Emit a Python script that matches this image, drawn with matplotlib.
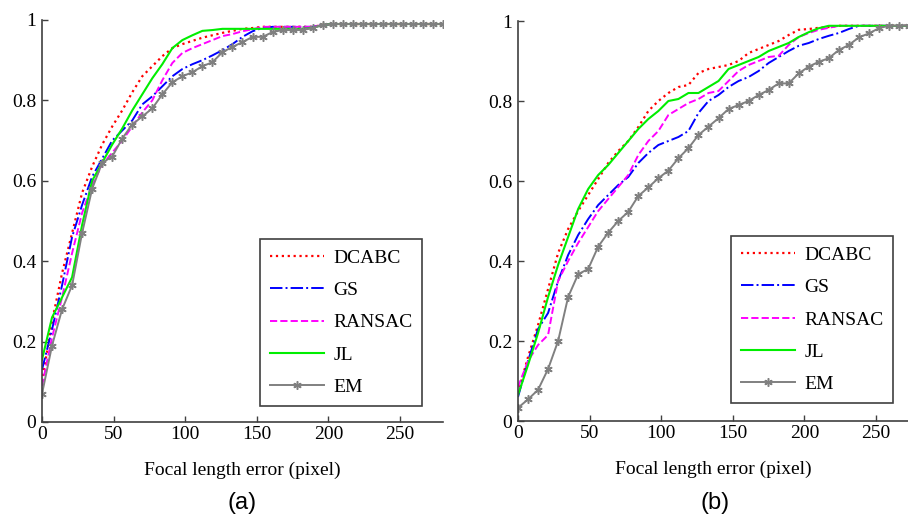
import matplotlib
matplotlib.use("Agg")
import matplotlib.pyplot as plt
from matplotlib.ticker import FixedLocator

# ---------------- data ----------------
x_err = list(range(0, 281, 7))  # 0, 7, ..., 280

# panel (a)
a_dcabc = [0.10, 0.25, 0.37, 0.47, 0.57, 0.635, 0.69, 0.735, 0.775, 0.82, 0.86, 0.885, 0.91, 0.93,
           0.94, 0.948, 0.956, 0.962, 0.968, 0.973, 0.978, 0.98, 0.983, 0.983, 0.983, 0.983, 0.983,
           0.983, 0.988, 0.99, 0.99, 0.99, 0.99, 0.99, 0.99, 0.99, 0.99, 0.99, 0.99, 0.99, 0.99]
a_gs = [0.13, 0.23, 0.34, 0.46, 0.54, 0.61, 0.655, 0.70, 0.725, 0.75, 0.79, 0.81, 0.835, 0.86,
        0.878, 0.89, 0.90, 0.912, 0.925, 0.94, 0.958, 0.972, 0.98, 0.983, 0.983, 0.983, 0.983,
        0.983, 0.988, 0.99, 0.99, 0.99, 0.99, 0.99, 0.99, 0.99, 0.99, 0.99, 0.99, 0.99, 0.99]
a_ransac = [0.09, 0.21, 0.31, 0.42, 0.52, 0.59, 0.64, 0.67, 0.70, 0.735, 0.77, 0.80, 0.85, 0.893,
            0.918, 0.93, 0.94, 0.95, 0.96, 0.965, 0.972, 0.977, 0.983, 0.983, 0.983, 0.983, 0.983,
            0.983, 0.988, 0.99, 0.99, 0.99, 0.99, 0.99, 0.99, 0.99, 0.99, 0.99, 0.99, 0.99, 0.99]
a_jl = [0.155, 0.26, 0.31, 0.36, 0.49, 0.60, 0.645, 0.69, 0.73, 0.775, 0.815, 0.855, 0.89, 0.93,
        0.95, 0.962, 0.973, 0.975, 0.978, 0.978, 0.978, 0.978, 0.978, 0.978, 0.978, 0.978, 0.978,
        0.98, 0.988, 0.99, 0.99, 0.99, 0.99, 0.99, 0.99, 0.99, 0.99, 0.99, 0.99, 0.99, 0.99]
a_em = [0.07, 0.19, 0.28, 0.34, 0.47, 0.58, 0.645, 0.66, 0.705, 0.74, 0.76, 0.78, 0.815, 0.845,
        0.86, 0.87, 0.885, 0.895, 0.92, 0.933, 0.945, 0.958, 0.958, 0.97, 0.975, 0.975, 0.975,
        0.98, 0.988, 0.99, 0.99, 0.99, 0.99, 0.99, 0.99, 0.99, 0.99, 0.99, 0.99, 0.99, 0.99]

# panel (b)
b_dcabc = [0.07, 0.16, 0.24, 0.33, 0.42, 0.48, 0.525, 0.565, 0.605, 0.645, 0.675, 0.70, 0.735, 0.775,
           0.80, 0.82, 0.835, 0.84, 0.87, 0.88, 0.885, 0.89, 0.90, 0.92, 0.93, 0.94, 0.95, 0.965,
           0.978, 0.98, 0.983, 0.985, 0.988, 0.988, 0.988, 0.988, 0.988, 0.988, 0.988, 0.988, 0.988]
b_gs = [0.06, 0.15, 0.23, 0.27, 0.35, 0.415, 0.465, 0.505, 0.54, 0.565, 0.59, 0.61, 0.645, 0.67,
        0.69, 0.70, 0.71, 0.725, 0.77, 0.80, 0.815, 0.835, 0.85, 0.86, 0.875, 0.895, 0.91, 0.925,
        0.938, 0.945, 0.955, 0.963, 0.97, 0.98, 0.988, 0.988, 0.988, 0.988, 0.988, 0.988, 0.988]
b_ransac = [0.085, 0.15, 0.19, 0.215, 0.35, 0.40, 0.445, 0.485, 0.525, 0.555, 0.585, 0.615, 0.665, 0.70,
            0.725, 0.765, 0.78, 0.795, 0.805, 0.82, 0.825, 0.85, 0.875, 0.89, 0.90, 0.91, 0.913, 0.94,
            0.96, 0.97, 0.978, 0.983, 0.988, 0.988, 0.988, 0.988, 0.988, 0.988, 0.988, 0.988, 0.988]
b_jl = [0.065, 0.14, 0.22, 0.31, 0.39, 0.46, 0.53, 0.58, 0.615, 0.64, 0.67, 0.70, 0.73, 0.755,
        0.775, 0.80, 0.805, 0.82, 0.82, 0.835, 0.85, 0.88, 0.89, 0.90, 0.91, 0.925, 0.935, 0.945,
        0.96, 0.972, 0.982, 0.988, 0.988, 0.988, 0.988, 0.988, 0.988, 0.988, 0.988, 0.988, 0.988]
b_em = [0.033, 0.054, 0.078, 0.13, 0.20, 0.31, 0.367, 0.38, 0.436, 0.471, 0.50, 0.523, 0.5625, 0.584,
        0.607, 0.626, 0.657, 0.682, 0.715, 0.736, 0.757, 0.78, 0.79, 0.80, 0.815, 0.8275, 0.844, 0.844,
        0.869, 0.886, 0.898, 0.907, 0.9275, 0.94, 0.959, 0.969, 0.982, 0.988, 0.988, 0.988, 0.988]

methods = ["DCABC", "GS", "RANSAC", "JL", "EM"]
y_ticks = [0, 0.2, 0.4, 0.6, 0.8, 1]
y_tick_labels = ["0", "0.2", "0.4", "0.6", "0.8", "1"]
x_ticks = [0, 50, 100, 150, 200, 250]
x_tick_labels = ["0", "50", "100", "150", "200", "250"]
xlabel_text = "Focal length error (pixel)"
panel_labels = ["(a)", "(b)"]

# ---------------- style ----------------
styles = {
    "DCABC": dict(color="#ff0000", linestyle=":", linewidth=1.6),
    "GS": dict(color="#0000ff", linestyle="-.", linewidth=1.4),
    "RANSAC": dict(color="#ff00ff", linestyle="--", linewidth=1.4),
    "JL": dict(color="#00ee00", linestyle="-", linewidth=1.5),
    "EM": dict(color="#808080", linestyle="-", linewidth=1.4,
               marker=(6, 2, 0), markersize=6, markeredgewidth=1.1),
}

serif = "Liberation Serif"
spine_col = "#404040"

W, H = 908, 518
fig = plt.figure(figsize=(W / 100, H / 100), dpi=100)


def px_axes(l, t, r, b):
    return [l / W, 1 - b / H, (r - l) / W, (b - t) / H]


panels = [
    dict(rect=px_axes(42, 20, 443, 422), xlim=(0, 280),
         data=[a_dcabc, a_gs, a_ransac, a_jl, a_em],
         leg_anchor=(0.948, 0.04), label_x=242),
    dict(rect=px_axes(518, 21, 908, 421), xlim=(0, 272.3),
         data=[b_dcabc, b_gs, b_ransac, b_jl, b_em],
         leg_anchor=(0.962, 0.045), label_x=715),
]

for i, p in enumerate(panels):
    ax = fig.add_axes(p["rect"])
    for name, ys in zip(methods, p["data"]):
        ax.plot(x_err, ys, label=name, **styles[name])
    ax.set_xlim(*p["xlim"])
    ax.set_ylim(0, 1)
    ax.xaxis.set_major_locator(FixedLocator(x_ticks))
    ax.yaxis.set_major_locator(FixedLocator(y_ticks))
    ax.set_xticklabels(x_tick_labels, fontfamily=serif, fontsize=14)
    ax.set_yticklabels(y_tick_labels, fontfamily=serif, fontsize=14)
    ax.tick_params(direction="in", length=4, width=1.0, color=spine_col, pad=4)
    ax.tick_params(axis="x", pad=3)
    for s in ["top", "right"]:
        ax.spines[s].set_visible(False)
    for s in ["left", "bottom"]:
        ax.spines[s].set_color(spine_col)
        ax.spines[s].set_linewidth(1.2)
    ax.set_xlabel(xlabel_text, fontfamily=serif, fontsize=14, labelpad=13)
    leg = ax.legend(loc="lower right", bbox_to_anchor=p["leg_anchor"],
                    prop={"family": serif, "size": 14}, frameon=True, fancybox=False,
                    handlelength=2.8, labelspacing=0.76, borderpad=0.5,
                    handletextpad=0.45, borderaxespad=0.0)
    fr = leg.get_frame()
    fr.set_edgecolor(spine_col)
    fr.set_linewidth(1.2)
    fr.set_alpha(1)
    fig.text(p["label_x"] / W, 1 - 503 / H, panel_labels[i], ha="center", va="center",
             fontfamily="Liberation Sans", fontsize=17)

fig.savefig("out.png", dpi=100)
